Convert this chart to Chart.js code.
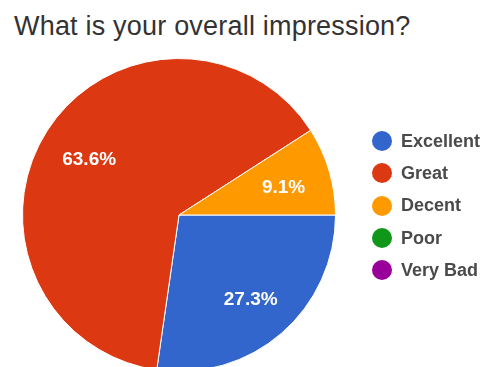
<!DOCTYPE html>
<html>
<head>
<meta charset="utf-8">
<script src="https://cdn.jsdelivr.net/npm/chart.js@4"></script>
<style>
  html, body { margin: 0; padding: 0; background: #fff; overflow: hidden; }
  #wrap { position: relative; width: 489px; height: 367px; overflow: hidden; }
  #title {
    position: absolute; left: 14px; top: 11px; letter-spacing: 0.2px;
    font: 27px "Liberation Sans", Arial, sans-serif; color: #333; white-space: nowrap;
  }
  #pie { position: absolute; left: 0; top: 0; }
  #legend { position: absolute; left: 372px; top: 125px; font: bold 18px "Liberation Sans", Arial, sans-serif; color: #4a4a4a; }
  .row { height: 32.3px; display: flex; align-items: center; white-space: nowrap; }
  .dot { width: 20px; height: 20px; border-radius: 50%; margin-right: 9px; }
</style>
</head>
<body>
<div id="wrap">
  <div id="title">What is your overall impression?</div>
  <canvas id="pie" width="489" height="440"></canvas>
  <div id="legend"></div>
</div>
<script>
const labels = ["Excellent", "Great", "Decent", "Poor", "Very Bad"];
const counts = [3, 7, 1, 0, 0];
const colors = ["#3366cc", "#dc3912", "#ff9900", "#109618", "#990099"];

const total = counts.reduce((s, v) => s + v, 0);

// legend
const legend = document.getElementById("legend");
legend.innerHTML = labels.map((l, i) =>
  `<div class="row"><div class="dot" style="background:${colors[i]}"></div>${l}</div>`
).join("");

// percent labels inside slices
const sliceLabels = {
  id: "sliceLabels",
  afterDatasetsDraw(chart) {
    const ctx = chart.ctx;
    const meta = chart.getDatasetMeta(0);
    ctx.save();
    ctx.fillStyle = "#fff";
    ctx.font = 'bold 19px "Liberation Sans", Arial, sans-serif';
    ctx.textAlign = "center";
    ctx.textBaseline = "middle";
    meta.data.forEach((arc, i) => {
      if (!counts[i]) return;
      const p = arc.getProps(["x", "y", "startAngle", "endAngle", "outerRadius"], true);
      const mid = (p.startAngle + p.endAngle) / 2;
      const r = p.outerRadius * 0.69;
      const pct = (counts[i] / total * 100).toFixed(1) + "%";
      ctx.fillText(pct, p.x + Math.cos(mid) * r + 1, p.y + Math.sin(mid) * r + 3);
    });
    ctx.restore();
  }
};

new Chart(document.getElementById("pie").getContext("2d"), {
  type: "pie",
  data: {
    labels,
    datasets: [{
      data: counts,
      backgroundColor: colors,
      borderColor: "#fff",
      borderWidth: 1
    }]
  },
  options: {
    responsive: false,
    animation: false,
    rotation: 90,
    layout: { padding: { left: 22, top: 58, right: 153, bottom: 68 } },
    plugins: {
      legend: { display: false },
      tooltip: { enabled: false }
    }
  },
  plugins: [sliceLabels]
});
</script>
</body>
</html>
